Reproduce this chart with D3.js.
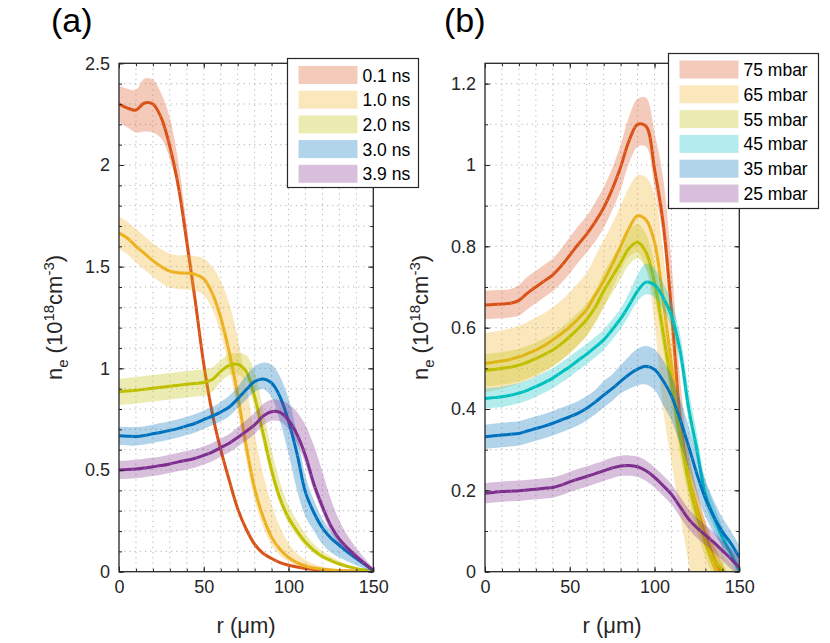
<!DOCTYPE html>
<html><head><meta charset="utf-8">
<script src="https://cdn.jsdelivr.net/npm/d3@7"></script>
<style>body{margin:0;background:#fff;}</style>
</head><body>
<script>
// ---------- DATA ----------
const rGrid = [0,5,10,15,20,25,30,35,40,45,50,55,60,65,70,75,80,85,90,95,100,105,110,115,120,125,130,135,140,145,150];

// Panel (a): time series
const seriesA = ["0.1 ns","1.0 ns","2.0 ns","3.0 ns","3.9 ns"];
const a01 = [2.30,2.28,2.27,2.305,2.30,2.23,2.09,1.895,1.62,1.33,1.02,0.78,0.60,0.45,0.31,0.21,0.135,0.09,0.065,0.045,0.032,0.023,0.016,0.011,0.008,0.006,0.004,0.003,0.002,0.001,0];
const a01Up = [0.09,0.095,0.10,0.12,0.12,0.12,0.14,0.12,0.08,0.05,0.03,0.02,0.02,0.015,0.012,0.01,0.01,0.008,0.006,0.005,0.004,0.003,0.002,0.002,0.001,0.001,0.001,0.001,0.001,0.001,0];
const a01Dn = [0.09,0.095,0.11,0.14,0.14,0.10,0.06,0.03,0.02,0.015,0.01,0.01,0.01,0.01,0.01,0.01,0.008,0.006,0.005,0.004,0.003,0.002,0.002,0.001,0.001,0.001,0.001,0.001,0.001,0.001,0];
const a10 = [1.665,1.64,1.60,1.565,1.53,1.50,1.478,1.47,1.468,1.462,1.44,1.37,1.25,1.08,0.87,0.62,0.41,0.27,0.17,0.11,0.07,0.045,0.028,0.018,0.012,0.008,0.005,0.003,0.002,0.001,0];
const a10Up = [0.08,0.08,0.085,0.085,0.085,0.085,0.085,0.085,0.09,0.09,0.10,0.13,0.18,0.24,0.28,0.30,0.27,0.21,0.16,0.11,0.07,0.045,0.03,0.02,0.013,0.008,0.005,0.003,0.002,0.001,0];
const a10Dn = [0.08,0.08,0.08,0.08,0.08,0.08,0.08,0.08,0.08,0.08,0.08,0.08,0.08,0.08,0.08,0.07,0.06,0.05,0.04,0.03,0.02,0.015,0.01,0.008,0.006,0.004,0.003,0.002,0.001,0.001,0];
const a20 = [0.885,0.888,0.892,0.897,0.902,0.907,0.912,0.917,0.922,0.926,0.93,0.945,0.985,1.015,1.02,0.985,0.86,0.68,0.50,0.36,0.265,0.20,0.145,0.105,0.075,0.055,0.038,0.025,0.015,0.008,0.003];
const a20Up = [0.065,0.065,0.065,0.065,0.065,0.065,0.065,0.065,0.065,0.065,0.065,0.06,0.055,0.055,0.055,0.08,0.12,0.12,0.10,0.08,0.06,0.05,0.04,0.03,0.025,0.02,0.015,0.01,0.008,0.005,0.002];
const a20Dn = [0.065,0.065,0.065,0.065,0.065,0.065,0.065,0.065,0.065,0.065,0.065,0.06,0.05,0.05,0.05,0.05,0.05,0.05,0.04,0.03,0.03,0.025,0.02,0.015,0.012,0.01,0.008,0.006,0.004,0.003,0.002];
const a30 = [0.668,0.666,0.665,0.67,0.678,0.686,0.695,0.705,0.717,0.73,0.748,0.765,0.785,0.81,0.85,0.895,0.935,0.948,0.928,0.86,0.74,0.58,0.39,0.29,0.215,0.165,0.13,0.095,0.065,0.035,0.005];
const a30Up = [0.045,0.045,0.045,0.045,0.045,0.045,0.045,0.045,0.045,0.045,0.045,0.045,0.05,0.055,0.06,0.07,0.075,0.08,0.09,0.10,0.11,0.10,0.08,0.06,0.045,0.035,0.03,0.025,0.02,0.015,0.005];
const a30Dn = [0.045,0.045,0.045,0.045,0.045,0.045,0.045,0.045,0.045,0.045,0.045,0.045,0.045,0.045,0.045,0.05,0.05,0.05,0.07,0.12,0.16,0.18,0.12,0.09,0.08,0.07,0.06,0.045,0.035,0.02,0.005];
const a39 = [0.50,0.502,0.505,0.51,0.516,0.522,0.53,0.54,0.548,0.558,0.572,0.588,0.61,0.632,0.66,0.69,0.722,0.765,0.787,0.783,0.745,0.675,0.57,0.43,0.32,0.225,0.16,0.115,0.075,0.04,0.008];
const a39Up = [0.045,0.045,0.045,0.045,0.045,0.045,0.045,0.045,0.045,0.045,0.045,0.045,0.045,0.045,0.05,0.055,0.06,0.06,0.06,0.06,0.08,0.11,0.15,0.19,0.17,0.13,0.09,0.06,0.04,0.025,0.008];
const a39Dn = [0.045,0.045,0.045,0.045,0.045,0.045,0.045,0.045,0.045,0.045,0.045,0.045,0.045,0.045,0.045,0.045,0.045,0.045,0.045,0.045,0.045,0.045,0.04,0.035,0.03,0.03,0.025,0.02,0.015,0.01,0.005];

// Panel (b): pressure series
const seriesB = ["75 mbar","65 mbar","55 mbar","45 mbar","35 mbar","25 mbar"];
const b75 = [0.656,0.657,0.658,0.66,0.667,0.685,0.70,0.715,0.73,0.752,0.778,0.805,0.83,0.86,0.895,0.94,0.995,1.06,1.10,1.095,0.99,0.86,0.64,0.38,0.235,0.155,0.09,0.035,-0.01,-0.05,-0.09];
const b75Up = [0.035,0.035,0.035,0.035,0.038,0.04,0.04,0.04,0.04,0.042,0.045,0.045,0.045,0.048,0.05,0.052,0.055,0.06,0.063,0.07,0.09,0.11,0.12,0.10,0.06,0.045,0.035,0.03,0.03,0.03,0.03];
const b75Dn = [0.035,0.035,0.035,0.035,0.038,0.04,0.04,0.04,0.04,0.042,0.045,0.045,0.045,0.048,0.05,0.052,0.055,0.055,0.055,0.05,0.045,0.04,0.04,0.04,0.035,0.03,0.03,0.03,0.03,0.03,0.03];
const b65 = [0.512,0.515,0.518,0.522,0.528,0.536,0.545,0.556,0.57,0.585,0.602,0.622,0.645,0.68,0.715,0.755,0.80,0.845,0.875,0.865,0.81,0.67,0.51,0.34,0.235,0.15,0.07,0.015,-0.03,-0.07,-0.10];
const b65Up = [0.075,0.075,0.075,0.076,0.077,0.078,0.08,0.08,0.08,0.082,0.085,0.088,0.09,0.095,0.10,0.10,0.10,0.10,0.10,0.105,0.12,0.12,0.10,0.08,0.06,0.05,0.05,0.05,0.05,0.05,0.05];
const b65Dn = [0.07,0.07,0.068,0.066,0.065,0.065,0.065,0.065,0.065,0.065,0.065,0.065,0.065,0.065,0.065,0.06,0.06,0.07,0.09,0.12,0.20,0.27,0.24,0.20,0.21,0.25,0.25,0.25,0.25,0.25,0.25];
const b55 = [0.495,0.497,0.50,0.503,0.508,0.515,0.524,0.534,0.545,0.56,0.578,0.598,0.62,0.65,0.69,0.725,0.76,0.795,0.81,0.785,0.71,0.59,0.46,0.33,0.225,0.14,0.075,0.03,0.005,-0.02,-0.04];
const b55Up = [0.04,0.04,0.04,0.04,0.04,0.04,0.04,0.04,0.04,0.04,0.04,0.04,0.04,0.04,0.045,0.045,0.045,0.045,0.045,0.045,0.045,0.04,0.04,0.04,0.04,0.04,0.04,0.04,0.04,0.04,0.04];
const b55Dn = [0.04,0.04,0.04,0.04,0.04,0.04,0.04,0.04,0.04,0.04,0.04,0.04,0.04,0.04,0.04,0.04,0.04,0.04,0.04,0.04,0.04,0.04,0.04,0.04,0.04,0.04,0.04,0.04,0.04,0.04,0.04];
const b45 = [0.426,0.428,0.43,0.434,0.439,0.446,0.455,0.465,0.476,0.49,0.504,0.52,0.535,0.552,0.57,0.595,0.622,0.655,0.69,0.712,0.705,0.675,0.63,0.545,0.405,0.30,0.19,0.135,0.085,0.045,0.0];
const b45Up = [0.025,0.025,0.025,0.025,0.025,0.025,0.025,0.025,0.025,0.025,0.025,0.025,0.025,0.025,0.025,0.025,0.025,0.03,0.04,0.045,0.04,0.035,0.035,0.04,0.045,0.04,0.035,0.03,0.025,0.02,0.02];
const b45Dn = [0.025,0.025,0.025,0.025,0.025,0.025,0.025,0.025,0.025,0.025,0.025,0.025,0.025,0.025,0.025,0.025,0.025,0.025,0.025,0.03,0.03,0.03,0.03,0.03,0.03,0.025,0.025,0.025,0.025,0.02,0.02];
const b35 = [0.332,0.334,0.336,0.338,0.34,0.346,0.352,0.358,0.365,0.373,0.381,0.39,0.402,0.417,0.434,0.45,0.468,0.485,0.498,0.505,0.497,0.47,0.432,0.375,0.31,0.24,0.18,0.135,0.098,0.07,0.035];
const b35Up = [0.03,0.03,0.03,0.03,0.03,0.03,0.03,0.03,0.03,0.03,0.03,0.03,0.03,0.03,0.035,0.035,0.04,0.045,0.05,0.05,0.05,0.05,0.05,0.05,0.05,0.05,0.045,0.04,0.035,0.03,0.03];
const b35Dn = [0.03,0.03,0.03,0.03,0.03,0.03,0.03,0.03,0.03,0.03,0.03,0.03,0.03,0.03,0.03,0.03,0.03,0.035,0.04,0.045,0.05,0.06,0.06,0.06,0.055,0.05,0.045,0.04,0.035,0.03,0.03];
const b25 = [0.193,0.195,0.197,0.198,0.199,0.201,0.203,0.205,0.207,0.213,0.221,0.228,0.234,0.241,0.248,0.255,0.26,0.261,0.258,0.248,0.232,0.212,0.19,0.16,0.13,0.108,0.09,0.072,0.052,0.032,0.01];
const b25Up = [0.025,0.025,0.025,0.025,0.025,0.025,0.025,0.025,0.025,0.025,0.025,0.025,0.025,0.025,0.025,0.025,0.025,0.025,0.025,0.025,0.025,0.025,0.025,0.025,0.025,0.025,0.025,0.025,0.025,0.025,0.025];
const b25Dn = [0.025,0.025,0.025,0.025,0.025,0.025,0.025,0.025,0.025,0.025,0.025,0.025,0.025,0.025,0.025,0.025,0.025,0.025,0.025,0.025,0.025,0.025,0.025,0.025,0.025,0.025,0.025,0.025,0.025,0.025,0.025];

const xTicks = [0,50,100,150];
const xMinor = [0,10,20,30,40,50,60,70,80,90,100,110,120,130,140,150];
const yTicksA = [0,0.5,1,1.5,2,2.5];
const yTickLabelsA = ["0","0.5","1","1.5","2","2.5"];
const yTicksB = [0,0.2,0.4,0.6,0.8,1,1.2];
const yTickLabelsB = ["0","0.2","0.4","0.6","0.8","1","1.2"];

// ---------- STYLE ----------
const FONT = '"Liberation Sans", Arial, Helvetica, sans-serif';
const INK = '#262626';
const colorsA = ['#D95319','#EDB120','#BFBF00','#0072BD','#7E2F8E'];
const colorsB = ['#D95319','#EDB120','#BFBF00','#00BFBF','#0072BD','#7E2F8E'];

const svg = d3.select('body').append('svg').attr('width',830).attr('height',643)
  .style('font-family',FONT);

function drawPanel(p){
  const x = d3.scaleLinear().domain([0,150]).range([p.left,p.right]);
  const y = d3.scaleLinear().domain([0,p.yMax]).range([p.bottom,p.top]);
  const yMinor = d3.range(0, p.yMax+1e-9, 0.1).map(v=>+v.toFixed(2));
  const g = svg.append('g');

  svg.append('clipPath').attr('id','clip'+p.id).append('rect')
    .attr('x',p.left).attr('y',p.top).attr('width',p.right-p.left).attr('height',p.bottom-p.top);

  // grid (dotted)
  const grid = g.append('g').attr('stroke','#b4b4b4').attr('stroke-width',1).attr('stroke-dasharray','1.2 4');
  grid.selectAll('.gx').data(xMinor.filter(v=>v>0&&v<150)).join('line')
    .attr('x1',d=>x(d)).attr('x2',d=>x(d)).attr('y1',p.top).attr('y2',p.bottom);
  grid.selectAll('.gy').data(yMinor.filter(v=>v>0&&v<p.yMax)).join('line')
    .attr('y1',d=>y(d)).attr('y2',d=>y(d)).attr('x1',p.left).attr('x2',p.right);

  // data
  const gc = g.append('g').attr('clip-path','url(#clip'+p.id+')');
  const cr = d3.curveCatmullRom.alpha(0.5);
  p.series.forEach((s,i)=>{
    const pts = rGrid.map((r,k)=>({r, n:s.n[k], lo:s.n[k]-s.dn[k], hi:s.n[k]+s.up[k]}));
    const area = d3.area().x(d=>x(d.r)).y0(d=>y(d.lo)).y1(d=>y(d.hi)).curve(cr);
    const line = d3.line().x(d=>x(d.r)).y(d=>y(d.n)).curve(cr);
    gc.append('path').attr('d',area(pts)).attr('fill',p.colors[i]).attr('fill-opacity',0.3).attr('stroke','none');
    gc.append('path').attr('d',line(pts)).attr('fill','none').attr('stroke',p.colors[i]).attr('stroke-width',3)
      .attr('stroke-linejoin','round');
    gc.append('path').attr('d',line(pts)).attr('fill','none').attr('stroke','#fff').attr('stroke-opacity',0.45)
      .attr('stroke-width',0.9).attr('stroke-dasharray','1 12');
  });

  // axes
  function styleAxis(sel){
    sel.select('.domain').remove();
    sel.selectAll('line').attr('stroke',INK).attr('stroke-width',1);
    sel.selectAll('text').attr('fill',INK).style('font-family',FONT).style('font-size','18px');
  }
  const fmt = (vals,labels)=> (d=> labels[vals.indexOf(d)]);
  g.append('g').attr('transform',`translate(${p.left},0)`)
    .call(d3.axisLeft(y).tickValues(yMinor).tickSize(-3).tickFormat('')).call(styleAxis);
  g.append('g').attr('transform',`translate(${p.left},0)`)
    .call(d3.axisLeft(y).tickValues(p.yTicks).tickSize(-5).tickPadding(9).tickFormat(fmt(p.yTicks,p.yLabels))).call(styleAxis);
  g.append('g').attr('transform',`translate(${p.right},0)`)
    .call(d3.axisRight(y).tickValues(yMinor).tickSize(-3).tickFormat('')).call(styleAxis);
  g.append('g').attr('transform',`translate(${p.right},0)`)
    .call(d3.axisRight(y).tickValues(p.yTicks).tickSize(-5).tickFormat('')).call(styleAxis);
  g.append('g').attr('transform',`translate(0,${p.bottom})`)
    .call(d3.axisBottom(x).tickValues(xMinor).tickSize(-3).tickFormat('')).call(styleAxis);
  g.append('g').attr('transform',`translate(0,${p.bottom})`)
    .call(d3.axisBottom(x).tickValues(xTicks).tickSize(-5).tickPadding(9).tickFormat(d3.format('d'))).call(styleAxis);
  g.append('g').attr('transform',`translate(0,${p.top})`)
    .call(d3.axisTop(x).tickValues(xMinor).tickSize(-3).tickFormat('')).call(styleAxis);
  g.append('g').attr('transform',`translate(0,${p.top})`)
    .call(d3.axisTop(x).tickValues(xTicks).tickSize(-5).tickFormat('')).call(styleAxis);

  g.append('rect').attr('x',p.left).attr('y',p.top).attr('width',p.right-p.left).attr('height',p.bottom-p.top)
    .attr('fill','none').attr('stroke',INK).attr('stroke-width',1.3);

  // axis labels
  g.append('text').attr('x',(p.left+p.right)/2).attr('y',633).attr('text-anchor','middle')
    .attr('fill',INK).style('font-size','22px').text('r (μm)');
  const yl = g.append('text').attr('transform',`translate(${p.left-57},${(p.top+p.bottom)/2}) rotate(-90)`)
    .attr('text-anchor','middle').attr('fill',INK).style('font-size','22px');
  yl.append('tspan').text('n');
  yl.append('tspan').attr('dy',6).style('font-size','15px').text('e');
  yl.append('tspan').attr('dy',-6).text(' (10');
  yl.append('tspan').attr('dy',-8).style('font-size','15px').text('18');
  yl.append('tspan').attr('dy',8).text('cm');
  yl.append('tspan').attr('dy',-8).style('font-size','15px').text('-3');
  yl.append('tspan').attr('dy',8).text(')');

  // panel letter
  g.append('text').attr('x',p.letterX).attr('y',32).attr('fill','#000').style('font-size','34px').text(p.letter);

  // legend
  const L = p.legend;
  const lg = g.append('g');
  lg.append('rect').attr('x',L.x).attr('y',L.y).attr('width',L.w).attr('height',L.h)
    .attr('fill','#fff').attr('stroke',INK).attr('stroke-width',1.2);
  p.names.forEach((nm,i)=>{
    const cy = L.y + L.first + i*L.step;
    lg.append('rect').attr('x',L.x+11).attr('y',cy-9).attr('width',59).attr('height',18)
      .attr('fill',p.colors[i]).attr('fill-opacity',0.3);
    lg.append('text').attr('x',L.x+75).attr('y',cy+6.5).attr('fill','#000').style('font-size','17.5px').text(nm);
  });
}

drawPanel({
  id:'a', left:119, right:373.3, top:63.3, bottom:571.7, yMax:2.5,
  yTicks:yTicksA, yLabels:yTickLabelsA, colors:colorsA, names:seriesA,
  series:[{n:a01,up:a01Up,dn:a01Dn},{n:a10,up:a10Up,dn:a10Dn},{n:a20,up:a20Up,dn:a20Dn},{n:a30,up:a30Up,dn:a30Dn},{n:a39,up:a39Up,dn:a39Dn}],
  letter:'(a)', letterX:51,
  legend:{x:287.5,y:58.5,w:131,h:129,first:16.5,step:24.7}
});
drawPanel({
  id:'b', left:485, right:739.3, top:63.3, bottom:571.7, yMax:1.25,
  yTicks:yTicksB, yLabels:yTickLabelsB, colors:colorsB, names:seriesB,
  series:[{n:b75,up:b75Up,dn:b75Dn},{n:b65,up:b65Up,dn:b65Dn},{n:b55,up:b55Up,dn:b55Dn},{n:b45,up:b45Up,dn:b45Dn},{n:b35,up:b35Up,dn:b35Dn},{n:b25,up:b25Up,dn:b25Dn}],
  letter:'(b)', letterX:444,
  legend:{x:668.5,y:53.5,w:150,h:155,first:16,step:24.8}
});
</script>
</body></html>
